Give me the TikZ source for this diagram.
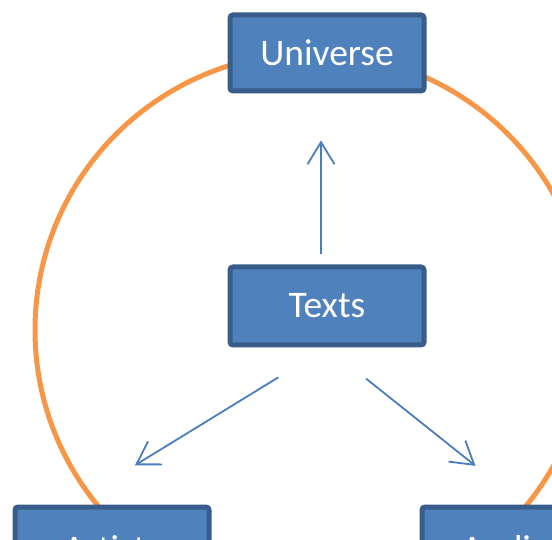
\documentclass[tikz,border=0pt]{standalone}
\usepackage{fontspec}
\setmainfont{Carlito}
\usetikzlibrary{arrows.meta}
\definecolor{boxfill}{HTML}{4F81BD}
\definecolor{boxline}{HTML}{385D8A}
\definecolor{linkblue}{HTML}{4A7EBB}
\definecolor{ringorange}{HTML}{F79646}
\begin{document}
\begin{tikzpicture}[x=1pt, y=1pt,
  box/.style={draw=boxline, fill=boxfill, line width=5pt, rounded corners=3pt,
    minimum width=194pt, minimum height=76pt, text=white,
    font=\fontsize{37.5}{40}\selectfont},
  link/.style={draw=linkblue, line width=1.8pt,
    -{Straight Barb[length=22pt, width=27pt, line width=1.8pt]}},
  ring/.style={draw=ringorange, line width=5pt}]

\useasboundingbox (0,0) rectangle (552,539);
\clip (0,0) rectangle (552,539);

\coordinate (hub) at (312,209);
\draw[ring] (hub) circle[radius=277];

\node[box] (universe) at (327,486) {Universe};
\node[box, minimum height=78pt] (texts) at (327,233) {Texts};
\node[box, minimum height=84pt] (artists) at (112,-10) {Artists};
\node[box, minimum height=84pt, minimum width=236pt] (audiences) at (540,-10) {Audiences};

\coordinate (artistsaim) at ([xshift=-41pt]artists.north);
\coordinate (audiencesaim) at ([xshift=-16pt]audiences.north);

\draw[link, shorten <=10pt, shorten >=47pt] ([xshift=-6pt]texts.north) -- ([xshift=-6pt]universe.south);
\draw[link, shorten <=57pt, shorten >=75pt] (texts.south) -- (artistsaim);
\draw[link, shorten <=50pt, shorten >=62pt] (texts.south) -- (audiencesaim);

\end{tikzpicture}
\end{document}
